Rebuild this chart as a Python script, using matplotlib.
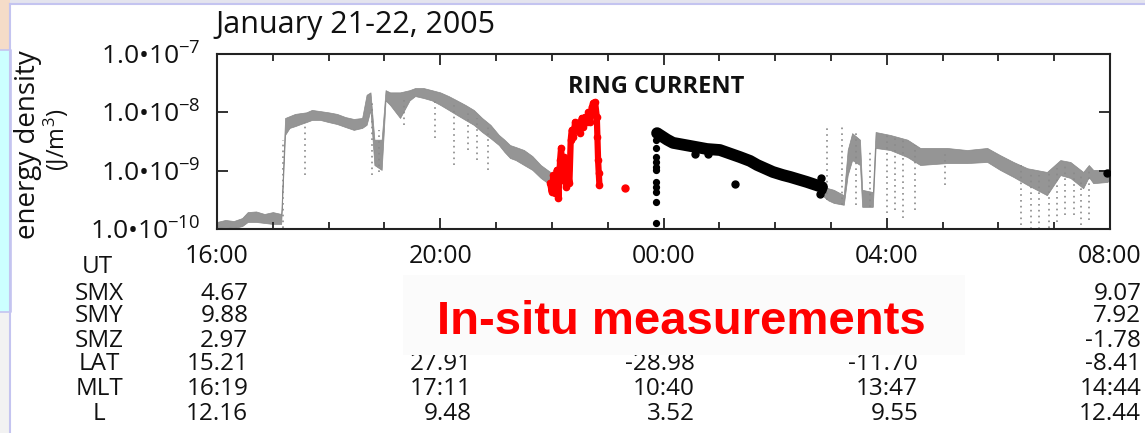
import numpy as np
import matplotlib
matplotlib.use("Agg")
import matplotlib.pyplot as plt
import matplotlib.transforms as mtransforms
from matplotlib.patches import Rectangle
from matplotlib.ticker import FixedLocator, FixedFormatter, MultipleLocator, NullLocator

plt.rcParams['font.family'] = ['Open Sans', 'DejaVu Sans']
plt.rcParams['mathtext.fontset'] = 'custom'
plt.rcParams['mathtext.rm'] = 'Open Sans'
plt.rcParams['mathtext.default'] = 'regular'

# ---- data (time in hours after 16:00 UT, Jan 21) ----
# gray background measurements: band top / bottom
gray1_t = [0.00, 0.15, 0.30, 0.45, 0.55, 0.70, 0.85, 1.00, 1.15, 1.22, 1.30, 1.40, 1.50, 1.60,
           1.70, 1.85, 2.00, 2.15, 2.30, 2.45, 2.60, 2.68, 2.75, 2.82, 2.95, 3.02, 3.10, 3.28,
           3.45, 3.55, 3.70, 3.85, 4.00, 4.15, 4.30, 4.45, 4.60, 4.75, 4.90, 5.05, 5.15, 5.25,
           5.35, 5.50, 5.65, 5.80, 5.97]
gray1_hi = [1.32e-10, 1.43e-10, 1.37e-10, 1.54e-10, 1.95e-10, 2.0e-10, 1.81e-10, 1.95e-10, 1.81e-10,
            8.0e-9, 8.6e-9, 9.4e-9, 9.7e-9, 1.0e-8, 1.1e-8, 1.05e-8, 1.0e-8, 9.4e-9, 8.3e-9, 7.7e-9,
            8.0e-9, 2.0e-8, 2.2e-8, 3.4e-9, 3.4e-9, 2.4e-8, 2.2e-8, 2.2e-8, 2.4e-8, 2.61e-8, 2.61e-8,
            2.4e-8, 2.2e-8, 1.9e-8, 1.6e-8, 1.34e-8, 1.1e-8, 8.0e-9, 6.1e-9, 4.1e-9, 3.4e-9, 2.75e-9,
            2.55e-9, 2.26e-9, 1.78e-9, 1.25e-9, 9.5e-10]
gray1_lo = [1.04e-10, 1.08e-10, 1.04e-10, 1.12e-10, 1.32e-10, 1.32e-10, 1.27e-10, 1.22e-10, 1.22e-10,
            4.1e-9, 5.4e-9, 5.8e-9, 6.3e-9, 6.8e-9, 7.4e-9, 7.4e-9, 6.8e-9, 6.3e-9, 5.6e-9, 5.0e-9,
            5.4e-9, 6.1e-9, 1.1e-8, 1.25e-9, 1.03e-9, 1.6e-8, 1.34e-8, 8.0e-9, 1.6e-8, 1.9e-8, 1.76e-8,
            1.6e-8, 1.34e-8, 1.1e-8, 9.0e-9, 7.4e-9, 6.1e-9, 4.6e-9, 3.6e-9, 2.75e-9, 2.09e-9, 1.65e-9,
            1.52e-9, 1.25e-9, 1.03e-9, 7.5e-10, 5.7e-10]

gray2_t = [10.84, 10.95, 11.05, 11.23, 11.30, 11.38, 11.52, 11.56, 11.75, 11.80, 12.06, 12.37,
           12.60, 13.08, 13.44, 13.80, 14.03, 14.27, 14.52, 14.87, 15.11, 15.29, 15.52, 15.62,
           15.70, 15.95, 16.00]
gray2_hi = [5.7e-10, 5.0e-10, 4.7e-10, 3.8e-10, 2.26e-9, 4.4e-9, 3.4e-9, 4.7e-10, 4.3e-10, 4.6e-9,
            4.1e-9, 3.4e-9, 2.45e-9, 2.45e-9, 2.26e-9, 2.45e-9, 1.85e-9, 1.41e-9, 1.1e-9, 9.5e-10,
            1.52e-9, 1.41e-9, 9.5e-10, 1.25e-9, 1.03e-9, 1.03e-9, 1.1e-9]
gray2_lo = [3.8e-10, 3.1e-10, 2.8e-10, 2.6e-10, 8.4e-10, 1.52e-9, 1.25e-9, 2.4e-10, 2.4e-10, 2.45e-9,
            2.26e-9, 1.71e-9, 1.25e-9, 1.35e-9, 1.35e-9, 1.41e-9, 1.03e-9, 7.8e-10, 5.7e-10, 3.8e-10,
            8.4e-10, 7.5e-10, 5.0e-10, 7.8e-10, 6.1e-10, 6.4e-10, 6.9e-10]

# sparse dropouts (vertical dotted streaks)
streak_t = [1.18, 1.58, 2.78, 2.90, 3.35, 3.90, 4.25, 4.50, 4.65, 4.85, 10.93, 11.20, 11.45, 11.70,
            12.00, 12.15, 12.30, 12.50, 13.05, 14.40, 14.58, 14.72, 14.90, 15.05, 15.20, 15.35,
            15.48, 15.62]
streak_hi = [3.4e-9, 6.8e-9, 1.6e-8, 5.0e-9, 1.6e-8, 1.6e-8, 1.34e-8, 1.1e-8, 8.0e-9, 6.1e-9,
             5.4e-9, 5.6e-9, 4.4e-9, 2.26e-9, 4.1e-9, 3.6e-9, 3.4e-9, 2.75e-9, 2.26e-9, 1.25e-9,
             9.1e-10, 8.4e-10, 1.03e-9, 1.1e-9, 1.25e-9, 1.03e-9, 8.4e-10, 1.03e-9]
streak_lo = [1.04e-10, 8.4e-10, 8.4e-10, 9.5e-10, 6.1e-9, 3.6e-9, 1.25e-9, 2.26e-9, 1.52e-9, 1.03e-9,
             3.1e-10, 2.6e-10, 2.6e-10, 2.4e-10, 1.88e-10, 2.1e-10, 1.54e-10, 2.1e-10, 5.7e-10, 1.17e-10,
             1.0e-10, 1.0e-10, 1.04e-10, 1.32e-10, 1.74e-10, 1.74e-10, 1.17e-10, 1.43e-10]

# ring current (red)
red_t = [5.968, 5.998, 6.027, 6.057, 6.088, 6.117, 6.147, 6.165, 6.195, 6.219, 6.254, 6.285,
         6.314, 6.338, 6.356, 6.386, 6.416, 6.446, 6.475, 6.505, 6.535, 6.565, 6.595, 6.625,
         6.654, 6.685, 6.715, 6.744, 6.774, 6.805, 6.816, 6.828, 6.840, 6.852]
red_v = [6.1e-10, 4.3e-10, 8.4e-10, 4.1e-10, 1.03e-9, 3.4e-10, 1.52e-9, 2.45e-9, 6.9e-10, 1.71e-9,
         5.25e-10, 1.03e-9, 6.1e-10, 3.4e-9, 5.0e-9, 3.8e-9, 6.8e-9, 5.0e-9, 6.6e-9, 4.4e-9,
         8.0e-9, 5.6e-9, 8.3e-9, 6.8e-9, 1.0e-8, 6.8e-9, 1.23e-8, 1.45e-8, 1.5e-8, 8.3e-9,
         3.8e-9, 1.52e-9, 9.1e-10, 5.7e-10]
red_single_t = [7.312]
red_single_v = [5.0e-10]

# black measurements
black_t = [7.885, 8.065, 8.17, 8.48, 8.78, 9.01, 9.37, 9.55, 9.68, 9.96, 10.14, 10.27, 10.57, 10.84]
black_v = [4.4e-9, 3.4e-9, 3.0e-9, 2.65e-9, 2.35e-9, 2.26e-9, 1.71e-9, 1.47e-9, 1.25e-9,
           9.5e-10, 8.4e-10, 7.8e-10, 6.4e-10, 5.25e-10]
black_col_t = 7.87
black_col_v = [4.4e-9, 3.4e-9, 2.45e-9, 1.71e-9, 1.41e-9, 1.16e-9, 1.03e-9, 6.4e-10, 5.25e-10,
               4.3e-10, 2.9e-10, 1.27e-10]
black_pts_t = [8.57, 8.80, 9.28, 10.80, 10.82, 10.84, 15.95]
black_pts_v = [1.9e-9, 1.95e-9, 5.9e-10, 4.0e-10, 7.5e-10, 4.6e-10, 9.1e-10]

# axes ticks / labels
ut_ticks = [0, 4, 8, 12, 16]
ut_labels = ['16:00', '20:00', '00:00', '04:00', '08:00']
y_ticks = [1e-10, 1e-9, 1e-8, 1e-7]
y_labels = ['1.0\u202210$^{-10}$', '1.0\u202210$^{-9}$', '1.0\u202210$^{-8}$', '1.0\u202210$^{-7}$']

# ephemeris table
row_names = ['SMX', 'SMY', 'SMZ', 'LAT', 'MLT', 'L']
smx = ['4.67', '', '', '', '9.07']
smy = ['9.88', '', '', '', '7.92']
smz = ['2.97', '', '', '', '-1.78']
lat = ['15.21', '27.91', '-28.98', '-11.70', '-8.41']
mlt = ['16:19', '17:11', '10:40', '13:47', '14:44']
lval = ['12.16', '9.48', '3.52', '9.55', '12.44']
table_rows = [smx, smy, smz, lat, mlt, lval]

# ---- figure ----
W, H = 1145, 433
fig = plt.figure(figsize=(W / 100, H / 100), dpi=100)
fig.patch.set_facecolor('white')


def fx(x):
    return x / W


def fy(y):
    return 1 - y / H


# slide decorations
deco = [
    (0, 0, W, 4, '#e4e4ee'),
    (0, 0, 10, 50, '#f5dcc8'),
    (0, 50, 11, 262, '#ccffff'),
    (0, 312, 10, 121, '#f2f2f2'),
]
for x0, y0, w, h, c in deco:
    fig.add_artist(Rectangle((fx(x0), fy(y0 + h)), w / W, h / H, transform=fig.transFigure,
                             facecolor=c, edgecolor='none', zorder=0))
fig.add_artist(plt.Line2D([fx(10), fx(W)], [fy(4), fy(4)], transform=fig.transFigure,
                          color='#c4c4f0', lw=1.5))
fig.add_artist(plt.Line2D([fx(10), fx(10)], [fy(4), fy(H)], transform=fig.transFigure,
                          color='#c4c4f0', lw=1.5))
fig.add_artist(plt.Line2D([fx(0), fx(11), fx(11), fx(0)], [fy(50), fy(50), fy(312), fy(312)],
                          transform=fig.transFigure, color='#c4c4f0', lw=1.2))

ax = fig.add_axes([fx(217), fy(229), fx(1110) - fx(217), fy(54) - fy(229)])
ax.set_yscale('log')
ax.set_xlim(0, 16)
ax.set_ylim(1e-10, 1e-7)

gray = '#959595'
ax.fill_between(gray1_t, gray1_lo, gray1_hi, facecolor=gray, lw=0.5, edgecolor='#888888')
ax.fill_between(gray2_t, gray2_lo, gray2_hi, facecolor=gray, lw=0.5, edgecolor='#888888')
ax.vlines(streak_t, streak_lo, streak_hi, colors='#8a8a8a', lw=1.2, linestyles=(0, (1, 2.5)))

ax.plot(red_t, red_v, color='#ff0000', lw=4.5, solid_joinstyle='round', solid_capstyle='round',
        marker='o', ms=4.5, zorder=3)
ax.plot(red_single_t, red_single_v, 'o', color='#ff0000', ms=5, zorder=3)

ax.plot(black_t, black_v, color='black', lw=8.5, solid_joinstyle='round', solid_capstyle='round',
        zorder=3)
ax.plot([black_col_t] * len(black_col_v), black_col_v, 'o', color='black', ms=4.2, zorder=3)
ax.plot(black_pts_t, black_pts_v, 'o', color='black', ms=5, zorder=3)

ax.xaxis.set_major_locator(FixedLocator(ut_ticks))
ax.xaxis.set_major_formatter(FixedFormatter(ut_labels))
ax.xaxis.set_minor_locator(MultipleLocator(1))
ax.yaxis.set_major_locator(FixedLocator(y_ticks))
ax.yaxis.set_major_formatter(FixedFormatter(y_labels))
ax.yaxis.set_minor_locator(NullLocator())

ax.tick_params(which='both', direction='in', top=True, right=True, width=1.3, color='#222222')
ax.tick_params(which='major', length=8)
ax.tick_params(which='minor', length=5)
ax.tick_params(axis='x', labelsize=18, pad=11, labelcolor='#111111')
ax.tick_params(axis='y', labelsize=19, pad=12, labelcolor='#111111')
for s in ax.spines.values():
    s.set_linewidth(1.5)
    s.set_color('#222222')

# texts
fig.text(fx(215), fy(33), 'January 21-22, 2005', fontsize=22, color='#111111', va='baseline')
fig.text(fx(28), fy(145), 'energy density', fontsize=20, rotation=90, ha='center', va='center',
         color='#111111')
fig.text(fx(56), fy(140), '(J/m$^3$)', fontsize=17, rotation=90, ha='center', va='center',
         color='#111111')
fig.text(fx(656), fy(93), 'RING CURRENT', fontsize=17, fontweight='bold', ha='center',
         va='baseline', color='#111111')

# ephemeris table
trans = mtransforms.blended_transform_factory(ax.transData, fig.transFigure)
row_base = [300, 322, 347, 370, 395, 420]
fig.text(fx(97), fy(273), 'UT', fontsize=17.5, ha='center', va='baseline', color='#111111')
for name, vals, yb in zip(row_names, table_rows, row_base):
    fig.text(fx(99), fy(yb), name, fontsize=17.5, ha='center', va='baseline', color='#111111')
    for t, v in zip(ut_ticks, vals):
        if v:
            ax.text(t + 0.56, fy(yb), v, transform=trans, fontsize=17.5, ha='right',
                    va='baseline', color='#111111', clip_on=False)

# overlay box with the caption
fig.add_artist(Rectangle((fx(403), fy(355)), (965 - 403) / W, (355 - 275) / H,
                         transform=fig.transFigure, facecolor='#fbfbfb', edgecolor='none', zorder=5))
fig.text(fx(437), fy(334), 'In-situ measurements', fontsize=34, fontweight='bold',
         family='Liberation Sans', color='#ff0000', va='baseline', zorder=6)

fig.savefig('out.png', dpi=100)
